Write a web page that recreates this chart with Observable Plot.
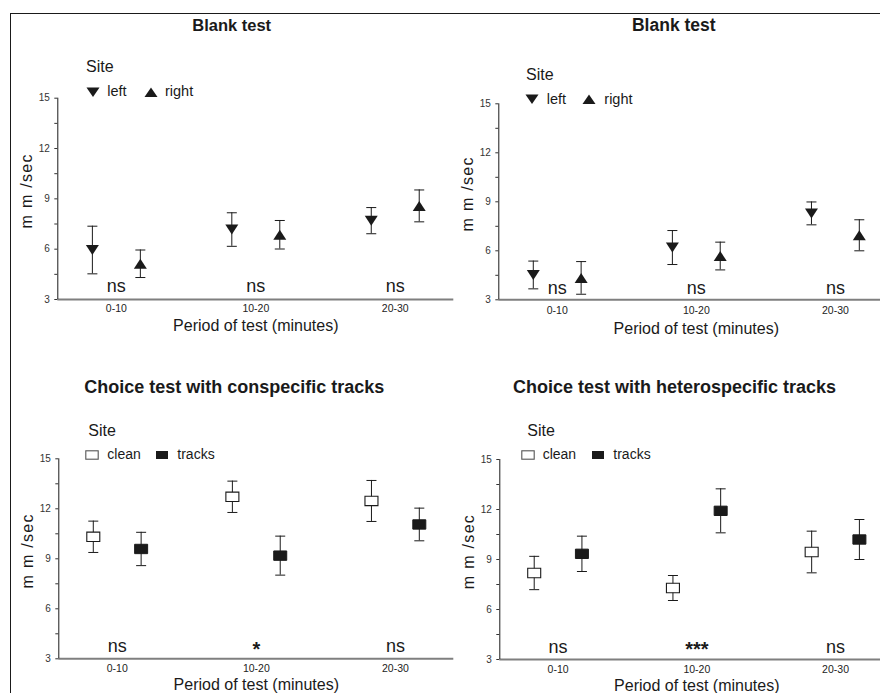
<!DOCTYPE html>
<html><head><meta charset="utf-8">
<script src="https://cdn.jsdelivr.net/npm/d3@7"></script>
<script src="https://cdn.jsdelivr.net/npm/@observablehq/plot@0.6"></script>
<style>
html,body{margin:0;padding:0;background:#fff;overflow:hidden;}
#page{position:relative;width:880px;height:693px;overflow:hidden;font-family:"Liberation Sans",Arial,sans-serif;color:#1a1a1a;background:#fff;}
.abs{position:absolute;white-space:nowrap;}
.frame{position:absolute;left:10px;top:13px;width:900px;height:700px;border-left:1.5px solid #1a1a1a;border-top:1.5px solid #1a1a1a;}
.plotwrap{position:absolute;width:460px;}
.plotwrap svg{max-width:none !important;}
</style></head>
<body><div id="page"><div class="frame"></div></div>
<script>
// ---------- data ----------
const periods = ["0-10", "10-20", "20-30"];
const blankSites = ["left", "right"];
const choiceSites = ["clean", "tracks"];

// Blank test (top left)
const blankA_left    = [5.95, 7.17, 7.70];
const blankA_leftSE  = [1.42, 1.00, 0.78];
const blankA_right   = [5.13, 6.86, 8.58];
const blankA_rightSE = [0.82, 0.85, 0.95];
const blankA_sig     = ["ns", "ns", "ns"];

// Blank test (top right)
const blankB_left    = [4.52, 6.20, 8.29];
const blankB_leftSE  = [0.85, 1.04, 0.70];
const blankB_right   = [4.34, 5.68, 6.95];
const blankB_rightSE = [1.00, 0.85, 0.95];
const blankB_sig     = ["ns", "ns", "ns"];

// Choice test with conspecific tracks
const consp_clean    = [10.32, 12.72, 12.47];
const consp_cleanSE  = [0.94, 0.94, 1.23];
const consp_tracks   = [9.59, 9.19, 11.06];
const consp_tracksSE = [1.00, 1.17, 0.98];
const consp_sig      = ["ns", "*", "ns"];

// Choice test with heterospecific tracks
const hetero_clean    = [8.19, 7.29, 9.45];
const hetero_cleanSE  = [1.00, 0.75, 1.25];
const hetero_tracks   = [9.34, 11.92, 10.20];
const hetero_tracksSE = [1.06, 1.32, 1.20];
const hetero_sig      = ["ns", "***", "ns"];

const yTicks = [3, 6, 9, 12, 15];
const yMinorTicks = [4.5, 7.5, 10.5, 13.5];
const xLabel = "Period of test (minutes)";
const yLabel = "m m /sec";

// ---------- symbols ----------
const INK = "#1a1a1a";
const triDown = {draw(ctx, size){const r=Math.sqrt(size/Math.PI), h=r*0.77; ctx.moveTo(-r,-h); ctx.lineTo(r,-h); ctx.lineTo(0,h); ctx.closePath();}};
const triUp = {draw(ctx, size){const r=Math.sqrt(size/Math.PI), h=r*0.77; ctx.moveTo(-r,h); ctx.lineTo(r,h); ctx.lineTo(0,-h); ctx.closePath();}};
const boxSym = {draw(ctx, size){const r=Math.sqrt(size/Math.PI), h=r*0.72; ctx.moveTo(-r,-h); ctx.lineTo(r,-h); ctx.lineTo(r,h); ctx.lineTo(-r,h); ctx.closePath();}};
const capSym = {draw(ctx, size){const r=Math.sqrt(size/Math.PI); ctx.moveTo(-r,0); ctx.lineTo(r,0);}};

function buildRows(m0, s0, m1, s1) {
  const rows = [];
  periods.forEach((p, i) => {
    rows.push({i, g: 0, x: i - 0.172, mean: m0[i], lo: m0[i] - s0[i], hi: m0[i] + s0[i]});
    rows.push({i, g: 1, x: i + 0.172, mean: m1[i], lo: m1[i] - s1[i], hi: m1[i] + s1[i]});
  });
  return rows;
}

const page = document.getElementById("page");

function addText(txt, opts) {
  const d = document.createElement("div");
  d.className = "abs";
  d.textContent = txt;
  Object.assign(d.style, opts);
  page.appendChild(d);
  return d;
}

function legendSwatch(kind, cx, cy) {
  const w = 14, h = 12;
  const svg = d3.create("svg").attr("width", w).attr("height", h)
    .style("position", "absolute").style("left", (cx - w/2) + "px").style("top", (cy - h/2) + "px").style("overflow", "visible");
  if (kind === "down") svg.append("path").attr("d", "M0.5,1.5 L13.5,1.5 L7,11 Z").attr("fill", INK);
  if (kind === "up") svg.append("path").attr("d", "M0.5,11 L13.5,11 L7,1.5 Z").attr("fill", INK);
  if (kind === "clean") svg.append("rect").attr("x", 0.8).attr("y", 1.8).attr("width", 12.4).attr("height", 8.4).attr("fill", "#fff").attr("stroke", "#555").attr("stroke-width", 1.1);
  if (kind === "tracks") svg.append("rect").attr("x", 1).attr("y", 2).attr("width", 12).attr("height", 8).attr("fill", INK);
  page.appendChild(svg.node());
}

function panel(cfg) {
  const rows = buildRows(cfg.m0, cfg.s0, cfg.m1, cfg.s1);
  const g0 = rows.filter(d => d.g === 0), g1 = rows.filter(d => d.g === 1);
  const markers = cfg.kind === "blank"
    ? [Plot.dot(g0, {x: "x", y: "mean", symbol: triDown, r: 6.5, fill: INK, stroke: "none"}),
       Plot.dot(g1, {x: "x", y: "mean", symbol: triUp, r: 6.5, fill: INK, stroke: "none"})]
    : [Plot.dot(g0, {x: "x", y: "mean", symbol: boxSym, r: 6.5, fill: "#fff", stroke: INK, strokeWidth: 1.1}),
       Plot.dot(g1, {x: "x", y: "mean", symbol: boxSym, r: 6.5, fill: INK, stroke: INK, strokeWidth: 1})];
  const sigRows = cfg.sig.map((s, i) => ({i, s}));
  const nsRows = sigRows.filter(d => d.s === "ns");
  const starRows = sigRows.filter(d => d.s !== "ns");
  const chart = Plot.plot({
    width: 460, height: cfg.h,
    marginLeft: cfg.ml, marginRight: 6.7, marginTop: cfg.mt, marginBottom: cfg.mb,
    style: {background: "transparent", overflow: "visible", maxWidth: "none", fontFamily: '"Liberation Sans", Arial, sans-serif', color: INK},
    x: {domain: [-0.42, 2.42]},
    y: {domain: [3, 15]},
    marks: [
      Plot.ruleY([3], {stroke: "#7f7f7f", strokeWidth: 2}),
      Plot.ruleX([-0.42], {stroke: INK, strokeWidth: 1}),
      Plot.axisY({ticks: yTicks, tickSize: 3, tickPadding: 5, fontSize: 10, color: "#333", label: null}),
      Plot.axisY({ticks: yMinorTicks, tickSize: 3, tickFormat: () => "", color: "#333", label: null}),
      Plot.axisX({ticks: [0, 1, 2], tickFormat: i => periods[i], tickSize: 0, tickPadding: cfg.tp, fontSize: 10.5, color: "#222", label: null}),
      Plot.ruleX(rows, {x: "x", y1: "lo", y2: "hi", stroke: INK, strokeWidth: 1}),
      Plot.dot(rows, {x: "x", y: "lo", symbol: capSym, r: 5, fill: "none", stroke: INK, strokeWidth: 1}),
      Plot.dot(rows, {x: "x", y: "hi", symbol: capSym, r: 5, fill: "none", stroke: INK, strokeWidth: 1}),
      ...markers,
      Plot.text(nsRows, {x: "i", frameAnchor: "bottom", lineAnchor: "middle", text: "s", dy: cfg.sigDy, fontSize: 18, fill: INK}),
      Plot.text(starRows, {x: "i", frameAnchor: "bottom", lineAnchor: "middle", text: "s", dy: -9.5, fontSize: 20, fontWeight: "bold", fill: INK}),
      Plot.text([xLabel], {frameAnchor: "bottom", lineAnchor: "middle", textAnchor: "middle", text: d => d, dy: cfg.xlDy, fontSize: 16, fill: INK}),
      Plot.text([yLabel], {frameAnchor: "left", lineAnchor: "middle", textAnchor: "middle", text: d => d, rotate: -90, dx: -31, dy: -8, fontSize: 16, fill: INK})
    ]
  });
  d3.select(chart).selectAll("text").filter(function() { return this.textContent === yLabel; })
    .attr("letter-spacing", "1.3px");
  const wrap = document.createElement("div");
  wrap.className = "plotwrap";
  wrap.style.left = cfg.left + "px";
  wrap.style.top = cfg.top + "px";
  wrap.appendChild(chart);
  page.appendChild(wrap);

  // title
  addText(cfg.title, {left: cfg.titleX + "px", top: cfg.titleTop + "px", fontSize: cfg.titleSize + "px", lineHeight: cfg.titleSize + "px", fontWeight: "bold", transform: "translateX(-50%)"});
  // legend
  addText("Site", {left: cfg.siteX + "px", top: cfg.siteTop + "px", fontSize: "16px", lineHeight: "16px"});
  const names = cfg.kind === "blank" ? blankSites : choiceSites;
  const kinds = cfg.kind === "blank" ? ["down", "up"] : ["clean", "tracks"];
  names.forEach((n, k) => {
    legendSwatch(kinds[k], cfg.legSym[k], cfg.legY);
    addText(n, {left: cfg.legText[k] + "px", top: cfg.legTop + "px", fontSize: cfg.legSize + "px", lineHeight: cfg.legSize + "px"});
  });
}

panel({kind: "blank", title: "Blank test", titleSize: 16.5, titleX: 231.7, titleTop: 17.3,
  left: 0, top: 0, h: 340, ml: 57.3, mt: 97.7, mb: 41, tp: 5,
  m0: blankA_left, s0: blankA_leftSE, m1: blankA_right, s1: blankA_rightSE, sig: blankA_sig,
  sigDy: -13.1, xlDy: 26.7,
  siteX: 86, siteTop: 59.2, legSym: [92.5, 150.5], legY: 91.5, legText: [107.3, 165], legTop: 84.4, legSize: 14.5});

panel({kind: "blank", title: "Blank test", titleSize: 17.5, titleX: 673.8, titleTop: 16.9,
  left: 440, top: 0, h: 340, ml: 58.3, mt: 103.3, mb: 40.7, tp: 6.5,
  m0: blankB_left, s0: blankB_leftSE, m1: blankB_right, s1: blankB_rightSE, sig: blankB_sig,
  sigDy: -11.8, xlDy: 28.8,
  siteX: 526, siteTop: 66.5, legSym: [531.7, 589.3], legY: 98.8, legText: [546.7, 604.3], legTop: 91.7, legSize: 14.5});

panel({kind: "choice", title: "Choice test with conspecific tracks", titleSize: 18, titleX: 234.2, titleTop: 377.5,
  left: 0, top: 340, h: 353, ml: 58.3, mt: 118.3, mb: 34.7, tp: 5.7,
  m0: consp_clean, s0: consp_cleanSE, m1: consp_tracks, s1: consp_tracksSE, sig: consp_sig,
  sigDy: -12.4, xlDy: 26.4,
  siteX: 88.3, siteTop: 422.5, legSym: [91.7, 162], legY: 454.5, legText: [107.3, 177.3], legTop: 447.4, legSize: 14});

panel({kind: "choice", title: "Choice test with heterospecific tracks", titleSize: 18, titleX: 674.5, titleTop: 377.5,
  left: 440, top: 340, h: 353, ml: 59.3, mt: 119, mb: 34, tp: 6,
  m0: hetero_clean, s0: hetero_cleanSE, m1: hetero_tracks, s1: hetero_tracksSE, sig: hetero_sig,
  sigDy: -12.4, xlDy: 26.4,
  siteX: 527.3, siteTop: 422.5, legSym: [527.5, 597.8], legY: 454.5, legText: [542.7, 613.3], legTop: 447.4, legSize: 14});
</script>
</body></html>
